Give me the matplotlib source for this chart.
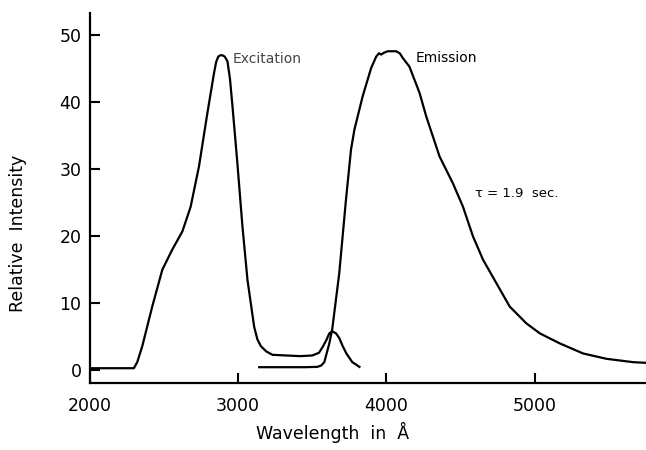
import numpy as np
import matplotlib.pyplot as plt

# excitation spectrum
exc_wl = [2000, 2100, 2200, 2297, 2320, 2354, 2421, 2489, 2556, 2624, 2680, 2736, 2793,
          2838, 2852, 2866, 2880, 2894, 2910, 2928, 2945, 2962, 2995, 3029, 3063, 3108,
          3130, 3153, 3190, 3232, 3324, 3420, 3500, 3545, 3568, 3595, 3615, 3635, 3660,
          3682, 3705, 3730, 3770, 3818]
exc_int = [0.3, 0.3, 0.3, 0.3, 1.2, 3.6, 9.5, 15.0, 18.0, 20.7, 24.4, 30.4, 38.4,
           44.4, 46.0, 46.8, 47.0, 47.0, 46.8, 46.1, 43.5, 39.4, 30.9, 21.5, 13.5, 6.5,
           4.6, 3.6, 2.8, 2.3, 2.2, 2.1, 2.2, 2.6, 3.4, 4.5, 5.5, 5.8, 5.5,
           4.8, 3.6, 2.5, 1.2, 0.5]

# emission spectrum
emi_wl = [3142, 3300, 3450, 3534, 3560, 3581, 3615, 3635, 3682, 3727, 3761, 3784, 3840,
          3897, 3931, 3950, 3964, 3985, 4009, 4065, 4090, 4110, 4155, 4223, 4268, 4358,
          4448, 4516, 4583, 4651, 4741, 4831, 4943, 5034, 5169, 5326, 5484, 5664, 5750]
emi_int = [0.45, 0.45, 0.45, 0.5, 0.7, 1.2, 4.0, 6.2, 14.5, 25.4, 32.9, 35.9, 40.9,
           45.1, 46.8, 47.3, 47.1, 47.4, 47.6, 47.6, 47.3, 46.6, 45.3, 41.4, 37.9, 31.9,
           27.9, 24.4, 20.0, 16.5, 13.0, 9.5, 7.0, 5.5, 4.0, 2.5, 1.7, 1.2, 1.1]

xticks = [2000, 3000, 4000, 5000]
yticks = [0, 10, 20, 30, 40, 50]

plt.rcParams['font.family'] = 'DejaVu Sans'

fig = plt.figure(figsize=(6.46, 4.5), dpi=100)
ax = fig.add_axes([0.139, 0.149, 0.861, 0.822])

ax.plot(exc_wl, exc_int, color='black', lw=1.6)
ax.plot(emi_wl, emi_int, color='black', lw=1.6)

ax.set_xlim(2000, 5750)
ax.set_ylim(-1.9, 53.3)
ax.set_xticks(xticks)
ax.set_yticks(yticks)
ax.tick_params(direction='in', length=7, width=1.5, labelsize=12.5, pad=6)
ax.tick_params(axis='x', pad=10)

ax.spines['right'].set_visible(False)
ax.spines['top'].set_visible(False)
ax.spines['left'].set_linewidth(1.6)
ax.spines['bottom'].set_linewidth(1.6)

ax.set_xlabel('Wavelength  in  Å', fontsize=12.5, va='center')
ax.xaxis.set_label_coords(0.437, -0.135)
ax.set_ylabel('Relative  Intensity', fontsize=12.5, va='center')
ax.yaxis.set_label_coords(-0.129, 0.405)

ax.text(2960, 46.4, 'Excitation', fontsize=10, va='center', color='#444444')
ax.text(4200, 46.6, 'Emission', fontsize=10, va='center')
ax.text(4600, 26.4, 'τ = 1.9  sec.', fontsize=9.5, va='center')

fig.savefig('out.png', dpi=100)
